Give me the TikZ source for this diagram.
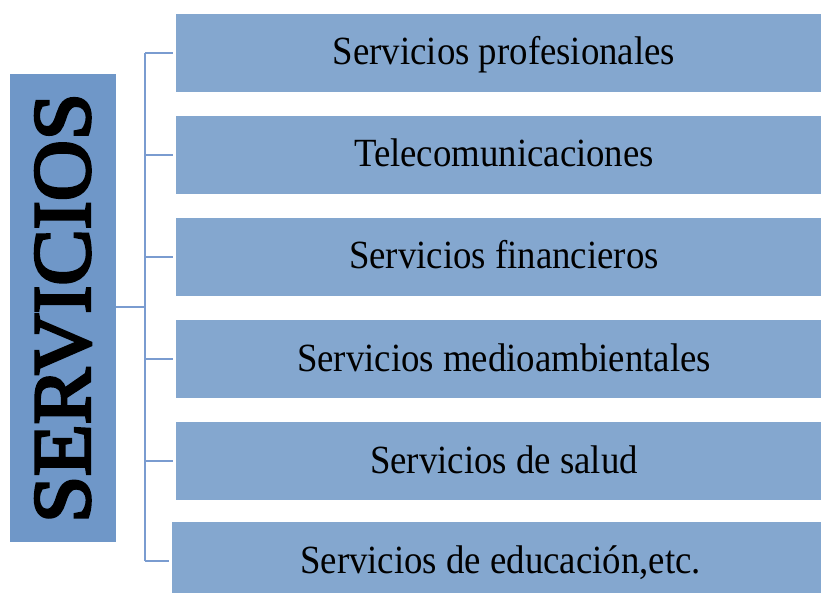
\documentclass[tikz,border=0pt]{standalone}
\usepackage{fontspec}
\setmainfont{Liberation Serif}
\definecolor{leftfill}{RGB}{111,151,200}
\definecolor{boxfill}{RGB}{132,167,207}
\definecolor{linec}{RGB}{122,156,208}
\newcommand{\sq}[1]{\scalebox{0.92}[1]{#1}}
\newcommand{\heavytext}[1]{\special{pdf:literal direct 2 Tr 3 w 0 0 0 RG}#1\special{pdf:literal direct 0 Tr}}
\begin{document}
\begin{tikzpicture}[x=1pt,y=-1pt,
  rbox/.style={fill=boxfill, draw=none, minimum height=78pt, minimum width=656pt, inner sep=0pt,
     text height=24pt, text depth=0pt, font=\fontsize{40}{44}\selectfont},
  conn/.style={draw=linec, line width=2pt}]
\useasboundingbox (0,0) rectangle (821,593);
\node[fill=leftfill, minimum width=106pt, minimum height=468pt, inner sep=0pt,
      font=\fontsize{82}{90}\selectfont] (main) at (63,308)
      {\rotatebox{90}{\scalebox{1.03}[1]{\heavytext{SERVICIOS}}}};
\node[rbox] (b1) at (504,53) {\sq{Servicios profesionales}};
\node[rbox] (b2) at (504,155) {\sq{Telecomunicaciones}};
\node[rbox] (b3) at (504,257) {\sq{Servicios financieros}};
\node[rbox] (b4) at (504,359) {\sq{Servicios medioambientales}};
\node[rbox] (b5) at (504,461) {\sq{Servicios de salud}};
\node[rbox, minimum width=657pt] (b6) at (500.5,561) {\sq{Servicios de educación,etc.}};
\coordinate (hub) at (145,307);
\draw[conn] (main.east|-hub) -- (hub);
\draw[conn] (hub|-b1.west) -- (hub|-b6.west);
\foreach \i in {1,...,6}{
  \draw[conn, shorten >=3pt] (hub|-b\i.west) -- (b\i.west);
}
\end{tikzpicture}
\end{document}
